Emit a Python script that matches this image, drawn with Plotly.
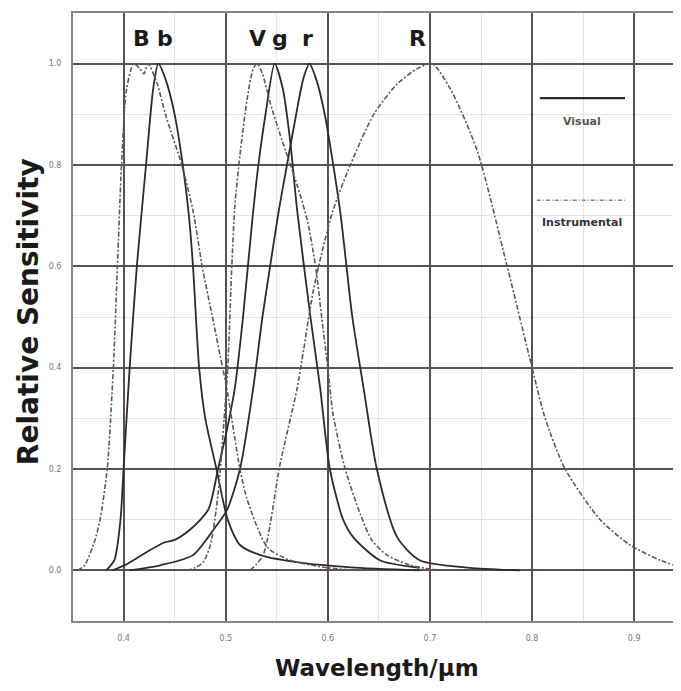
import plotly.graph_objects as go

# ---- data (wavelength in µm, relative sensitivity) ----
B_wl = [0.355, 0.362, 0.372, 0.377, 0.384, 0.390, 0.394, 0.398, 0.403, 0.410, 0.416, 0.420, 0.424, 0.433,
        0.441, 0.457, 0.468, 0.477, 0.487, 0.497, 0.501, 0.514, 0.521, 0.541, 0.563, 0.600, 0.630]
B_val = [0.0, 0.01, 0.06, 0.10, 0.20, 0.40, 0.60, 0.80, 0.95, 1.0, 0.99, 0.98, 1.0, 0.96,
         0.90, 0.80, 0.71, 0.60, 0.50, 0.40, 0.36, 0.20, 0.14, 0.045, 0.02, 0.005, 0.0]

b_wl = [0.383, 0.391, 0.397, 0.400, 0.406, 0.413, 0.422, 0.429, 0.434, 0.441, 0.450, 0.458, 0.464, 0.468,
        0.474, 0.480, 0.491, 0.502, 0.514, 0.534, 0.573, 0.622, 0.690]
b_val = [0.0, 0.02, 0.10, 0.20, 0.40, 0.60, 0.80, 0.95, 1.0, 0.97, 0.90, 0.80, 0.70, 0.60,
         0.40, 0.30, 0.20, 0.10, 0.05, 0.03, 0.015, 0.006, 0.0]

V_wl = [0.462, 0.470, 0.478, 0.485, 0.4925, 0.4985, 0.502, 0.506, 0.509, 0.514, 0.521, 0.527, 0.531, 0.536,
        0.544, 0.555, 0.570, 0.580, 0.588, 0.594, 0.600, 0.605, 0.617, 0.632, 0.643, 0.658, 0.681, 0.710]
V_val = [0.0, 0.005, 0.016, 0.05, 0.15, 0.30, 0.40, 0.60, 0.72, 0.82, 0.93, 0.99, 1.0, 0.98,
         0.92, 0.85, 0.76, 0.69, 0.60, 0.50, 0.40, 0.31, 0.20, 0.11, 0.06, 0.03, 0.01, 0.0]

g_wl = [0.389, 0.404, 0.426, 0.440, 0.450, 0.465, 0.483, 0.4925, 0.5015, 0.509, 0.517, 0.526, 0.532,
        0.539, 0.548, 0.556, 0.563, 0.570, 0.583, 0.5925, 0.602, 0.615, 0.625, 0.651, 0.690]
g_val = [0.0, 0.013, 0.04, 0.055, 0.06, 0.08, 0.12, 0.20, 0.28, 0.36, 0.50, 0.69, 0.80,
         0.90, 1.0, 0.95, 0.85, 0.71, 0.50, 0.36, 0.20, 0.10, 0.065, 0.02, 0.005]

r_wl = [0.406, 0.436, 0.468, 0.488, 0.5015, 0.514, 0.527, 0.536, 0.5435, 0.552, 0.560, 0.569, 0.576,
        0.582, 0.5885, 0.597, 0.612, 0.624, 0.635, 0.648, 0.668, 0.690, 0.739, 0.788]
r_val = [0.0, 0.01, 0.03, 0.08, 0.12, 0.20, 0.36, 0.50, 0.60, 0.71, 0.80, 0.90, 0.97,
         1.0, 0.97, 0.90, 0.71, 0.50, 0.36, 0.20, 0.065, 0.02, 0.005, 0.0]

R_wl = [0.524, 0.5366, 0.5533, 0.570, 0.5856, 0.5945, 0.605, 0.622, 0.645, 0.668, 0.6875, 0.702,
        0.720, 0.746, 0.7756, 0.800, 0.8128, 0.8324, 0.8667, 0.896, 0.9255, 0.955]
R_val = [0.0, 0.03, 0.21, 0.36, 0.55, 0.63, 0.71, 0.80, 0.90, 0.96, 0.99, 1.0,
         0.95, 0.83, 0.60, 0.40, 0.30, 0.20, 0.10, 0.05, 0.02, 0.0]

curve_labels = ["B", "b", "V", "g", "r", "R"]
curve_label_x = [0.418, 0.441, 0.531, 0.553, 0.580, 0.688]

x_ticks = [0.4, 0.5, 0.6, 0.7, 0.8, 0.9]
y_ticks = [0.0, 0.2, 0.4, 0.6, 0.8, 1.0]

SOLID = "#302a2a"
DASHED = "#5e5858"
GRID = "#5a5252"

fig = go.Figure()

instrumental = [(B_wl, B_val), (V_wl, V_val), (R_wl, R_val)]
visual = [(b_wl, b_val), (g_wl, g_val), (r_wl, r_val)]

for wl, val in visual:
    fig.add_trace(go.Scatter(x=wl, y=val, mode="lines",
                             line=dict(color=SOLID, width=1.8, shape="spline", smoothing=0.7),
                             showlegend=False, hoverinfo="skip"))
for wl, val in instrumental:
    fig.add_trace(go.Scatter(x=wl, y=val, mode="lines",
                             line=dict(color=DASHED, width=1.6, shape="spline", smoothing=0.7,
                                       dash="5px,2px,2px,2px"),
                             showlegend=False, hoverinfo="skip"))

for lab, lx in zip(curve_labels, curve_label_x):
    fig.add_annotation(x=lx, y=1.05, text=f"<b>{lab}</b>", showarrow=False,
                       font=dict(family="DejaVu Sans", size=22, color="#1a1a1a"),
                       xanchor="center", yanchor="middle")

# legend (drawn as a small key inside the plot)
fig.add_shape(type="line", xref="paper", yref="paper", x0=0.778, x1=0.92, y0=0.860, y1=0.860,
              line=dict(color=SOLID, width=2.2))
fig.add_annotation(xref="paper", yref="paper", x=0.848, y=0.822, text="<b>Visual</b>",
                   showarrow=False, xanchor="center", yanchor="middle",
                   font=dict(family="DejaVu Sans", size=11, color="#555"))
fig.add_shape(type="line", xref="paper", yref="paper", x0=0.773, x1=0.92, y0=0.692, y1=0.692,
              line=dict(color="#888", width=1.4, dash="4px,2px,1px,2px"))
fig.add_annotation(xref="paper", yref="paper", x=0.848, y=0.656, text="<b>Instrumental</b>",
                   showarrow=False, xanchor="center", yanchor="middle",
                   font=dict(family="DejaVu Sans", size=11, color="#333"))

# axis titles
fig.add_annotation(xref="paper", yref="paper", x=0.507, y=-0.077, text="<b>Wavelength/µm</b>",
                   showarrow=False, xanchor="center", yanchor="middle",
                   font=dict(family="DejaVu Sans", size=23, color="#1a1a1a"))
fig.add_annotation(xref="paper", yref="paper", x=-0.075, y=0.508, text="<b>Relative Sensitivity</b>",
                   showarrow=False, xanchor="center", yanchor="middle", textangle=-90,
                   font=dict(family="DejaVu Sans", size=28, color="#1a1a1a"))

fig.update_layout(
    width=665, height=675,
    margin=dict(l=65, r=0, t=5, b=62, autoexpand=False),
    paper_bgcolor="white", plot_bgcolor="white",
    font=dict(family="DejaVu Sans", color="#222"),
    xaxis=dict(range=[0.3505, 0.938], tickvals=x_ticks, ticktext=[f"{v:.1f}" for v in x_ticks],
               tickfont=dict(size=8, color="#777"), ticks="", ticklen=0, ticklabelstandoff=8,
               showgrid=True, gridcolor=GRID, gridwidth=2, automargin=False,
               minor=dict(dtick=0.05, tick0=0.35, showgrid=True, gridcolor="#e6e3e3", gridwidth=1),
               showline=True, linecolor="#8a8484", linewidth=2, mirror=True, zeroline=False),
    yaxis=dict(range=[-0.1, 1.1], tickvals=y_ticks, ticktext=[f"{v:.1f}" for v in y_ticks],
               tickfont=dict(size=8, color="#777"), ticks="", ticklen=0, ticklabelstandoff=8,
               showgrid=True, gridcolor=GRID, gridwidth=2, automargin=False,
               minor=dict(dtick=0.1, tick0=0.0, showgrid=True, gridcolor="#e6e3e3", gridwidth=1),
               showline=True, linecolor="#8a8484", linewidth=2, mirror=True, zeroline=False),
)

fig.write_html("out.html")
